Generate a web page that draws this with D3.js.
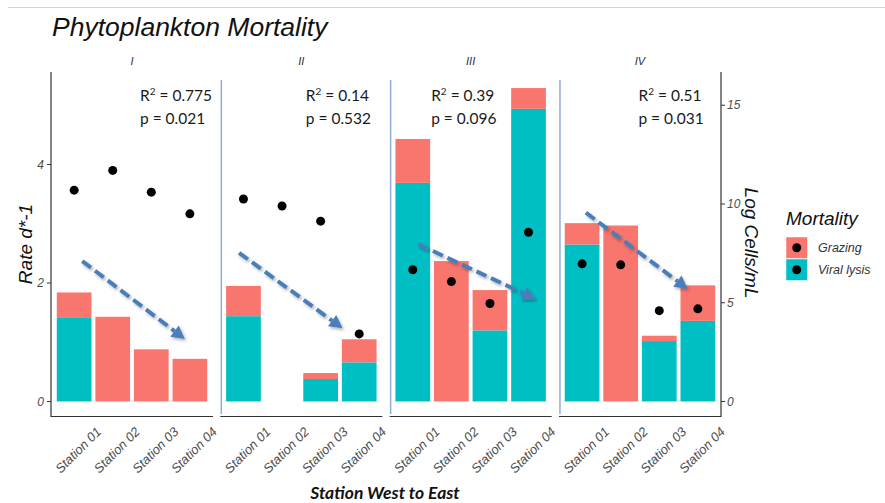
<!DOCTYPE html>
<html>
<head>
<meta charset="utf-8">
<script src="https://cdn.jsdelivr.net/npm/d3@7"></script>
<style>
  body { margin: 0; background: #fff; }
</style>
</head>
<body>
<div id="chart"></div>
<script>
// data
var panels = ["I", "II", "III", "IV"];
var stations = ["Station 01", "Station 02", "Station 03", "Station 04"];
var viral = [[1.41, 0, 0, 0], [1.44, 0, 0.38, 0.66], [3.69, 0, 1.2, 4.94], [2.65, 0, 1.02, 1.36]];
var grazing = [[0.43, 1.43, 0.88, 0.72], [0.51, 0, 0.1, 0.39], [0.74, 2.37, 0.68, 0.35], [0.36, 2.97, 0.09, 0.6]];
var cells = [[10.7, 11.7, 10.6, 9.5], [10.25, 9.9, 9.13, 3.42], [6.67, 6.07, 4.96, 8.57], [6.97, 6.92, 4.6, 4.69]];
var r2 = ["0.775", "0.14", "0.39", "0.51"];
var pval = ["0.021", "0.532", "0.096", "0.031"];
// trend arrows: [station from, rate from, station to, rate to]
var arrows = [[1.21, 2.37, 3.87, 1.055], [0.885, 2.51, 3.57, 1.235], [1.146, 2.653, 4.185, 1.73], [1.098, 3.187, 3.738, 1.9]];
var leftTicks = [0, 2, 4];
var rightTicks = [0, 5, 10, 15];
var legendKeys = ["Grazing", "Viral lysis"];

var W = 885, H = 503;
var plot = {left: 51, right: 721, top: 72, bottom: 416};
var colors = {"Grazing": "#F8766D", "Viral lysis": "#00BFC4"};
var annX = [89, 85.5, 41.5, 79.5];
var sans = "'Liberation Sans', Arial, sans-serif";
var calib = "Lato, sans-serif";

var svg = d3.select("#chart").append("svg")
  .attr("width", W).attr("height", H)
  .style("font-family", sans);

var defs = svg.append("defs");
var f = defs.append("filter").attr("id", "shadow").attr("x", "-20%").attr("y", "-20%").attr("width", "140%").attr("height", "140%");
f.append("feDropShadow").attr("dx", 1.5).attr("dy", 2).attr("stdDeviation", 1.5)
  .attr("flood-color", "#000").attr("flood-opacity", 0.3);

// top rule
svg.append("line").attr("x1", 8).attr("x2", W).attr("y1", 7.5).attr("y2", 7.5)
  .attr("stroke", "#d4d4d4").attr("stroke-width", 1);

// title
svg.append("text").attr("x", 52).attr("y", 36)
  .attr("font-size", 26.5).attr("font-style", "italic").attr("fill", "#111")
  .text("Phytoplankton Mortality");

// scales
var facet = d3.scaleBand().domain(panels).range([plot.left, plot.right]).paddingInner(0.043);
var y = d3.scaleLinear().domain([-0.245, 5.561]).range([plot.bottom, plot.top]);
var yR = d3.scaleLinear().domain([-0.245 * 3, 5.561 * 3]).range([plot.bottom, plot.top]);

panels.forEach(function (p, pi) {
  var x0 = facet(p);
  var x = d3.scaleBand().domain(stations).range([0, facet.bandwidth()])
    .paddingInner(0.1).paddingOuter(0.15);
  var g = svg.append("g").attr("transform", "translate(" + x0 + ",0)");

  // strip label
  g.append("text").attr("x", facet.bandwidth() / 2).attr("y", 65)
    .attr("text-anchor", "middle").attr("font-size", 11).attr("font-style", "italic")
    .attr("fill", "#2b2b3b").text(p);

  // stacked bars
  stations.forEach(function (s, si) {
    var v = viral[pi][si], gz = grazing[pi][si];
    if (v > 0) {
      g.append("rect").attr("x", x(s)).attr("width", x.bandwidth())
        .attr("y", y(v)).attr("height", y(0) - y(v)).attr("fill", colors["Viral lysis"]);
    }
    if (gz > 0) {
      g.append("rect").attr("x", x(s)).attr("width", x.bandwidth())
        .attr("y", y(v + gz)).attr("height", y(v) - y(v + gz)).attr("fill", colors["Grazing"]);
    }
  });

  // cell counts
  g.selectAll("circle.dot").data(cells[pi]).enter().append("circle")
    .attr("cx", function (d, i) { return x(stations[i]) + x.bandwidth() / 2; })
    .attr("cy", function (d) { return yR(d); })
    .attr("r", 4.5).attr("fill", "#000");

  // bottom axis line
  g.append("line").attr("x1", 0).attr("x2", facet.bandwidth())
    .attr("y1", plot.bottom + 0.5).attr("y2", plot.bottom + 0.5)
    .attr("stroke", "#333").attr("stroke-width", 1.2);

  // x tick labels
  stations.forEach(function (s) {
    var cx = x(s) + x.bandwidth() / 2 + 4;
    g.append("text").attr("transform", "translate(" + cx + ",450) rotate(-45)")
      .attr("text-anchor", "middle").attr("dy", "0.35em")
      .attr("font-size", 13).attr("font-style", "italic").attr("fill", "#4d4d4d")
      .text(s);
  });

  // trend arrow
  var step = x.step();
  var sx = function (pos) { return x(stations[0]) + x.bandwidth() / 2 + (pos - 1) * step; };
  var a = arrows[pi];
  var ax1 = sx(a[0]), ay1 = y(a[1]), ax2 = sx(a[2]), ay2 = y(a[3]);
  var ang = Math.atan2(ay2 - ay1, ax2 - ax1), hl = 13, hw = 7;
  var bx = ax2 - hl * Math.cos(ang), by = ay2 - hl * Math.sin(ang);
  var ag = g.append("g").attr("filter", "url(#shadow)");
  ag.append("line").attr("x1", ax1).attr("y1", ay1).attr("x2", bx).attr("y2", by)
    .attr("stroke", "#4a7ebb").attr("stroke-width", 4).attr("stroke-dasharray", "11,5");
  ag.append("polygon").attr("fill", "#4a7ebb")
    .attr("points", [[ax2, ay2],
      [bx + hw * Math.sin(ang), by - hw * Math.cos(ang)],
      [bx - hw * Math.sin(ang), by + hw * Math.cos(ang)]].map(function (q) { return q.join(","); }).join(" "));

  // stats annotation
  var t = g.append("text").attr("x", annX[pi]).attr("y", 100.7)
    .style("font-family", calib).attr("font-size", 15.5).attr("fill", "#1a1a1a");
  t.append("tspan").text("R");
  t.append("tspan").attr("font-size", 10).attr("dy", -6).text("2");
  t.append("tspan").attr("dy", 6).text(" = " + r2[pi]);
  g.append("text").attr("x", annX[pi]).attr("y", 124.3)
    .style("font-family", calib).attr("font-size", 15.5).attr("fill", "#1a1a1a")
    .text("p = " + pval[pi]);
});

// panel separators
panels.slice(1).forEach(function (p) {
  svg.append("line").attr("x1", facet(p) + 1).attr("x2", facet(p) + 1)
    .attr("y1", 80).attr("y2", 414)
    .attr("stroke", "#8fabd6").attr("stroke-width", 1.5);
});

// left axis
var gl = svg.append("g").attr("transform", "translate(" + plot.left + ",0)");
gl.append("line").attr("x1", 0).attr("x2", 0).attr("y1", plot.top).attr("y2", plot.bottom + 1)
  .attr("stroke", "#333").attr("stroke-width", 1.2);
gl.selectAll("g.tick").data(leftTicks).enter().append("g")
  .attr("transform", function (d) { return "translate(0," + y(d) + ")"; })
  .each(function () {
    d3.select(this).append("line").attr("x1", -4).attr("x2", 0).attr("stroke", "#333");
    d3.select(this).append("text").attr("x", -7).attr("dy", "0.35em")
      .attr("text-anchor", "end").attr("font-size", 12).attr("font-style", "italic")
      .attr("fill", "#4d4d4d").text(function (d) { return d; });
  });
svg.append("text").attr("transform", "translate(25,244) rotate(-90)")
  .attr("text-anchor", "middle").attr("dy", "0.35em")
  .attr("font-size", 19).attr("font-style", "italic").attr("fill", "#111")
  .text("Rate d*-1");

// right axis
var gr = svg.append("g").attr("transform", "translate(" + plot.right + ",0)");
gr.append("line").attr("x1", 0).attr("x2", 0).attr("y1", plot.top).attr("y2", plot.bottom + 1)
  .attr("stroke", "#333").attr("stroke-width", 1.2);
gr.selectAll("g.tick").data(rightTicks).enter().append("g")
  .attr("transform", function (d) { return "translate(0," + yR(d) + ")"; })
  .each(function () {
    d3.select(this).append("line").attr("x1", 0).attr("x2", 4).attr("stroke", "#333");
    d3.select(this).append("text").attr("x", 6).attr("dy", "0.35em")
      .attr("font-size", 12).attr("font-style", "italic")
      .attr("fill", "#4d4d4d").text(function (d) { return d; });
  });
svg.append("text").attr("transform", "translate(752,243) rotate(90)")
  .attr("text-anchor", "middle").attr("dy", "0.35em")
  .attr("font-size", 19).attr("font-style", "italic").attr("fill", "#111")
  .text("Log Cells/mL");

// x axis title
svg.append("text").attr("x", (plot.left + plot.right) / 2 - 1).attr("y", 499)
  .attr("text-anchor", "middle").style("font-family", calib)
  .attr("font-size", 17.5).attr("font-weight", "bold").attr("font-style", "italic").attr("fill", "#111")
  .text("Station West to East");

// legend
var lg = svg.append("g").attr("transform", "translate(786,0)");
lg.append("text").attr("x", 0).attr("y", 225)
  .attr("font-size", 19).attr("font-style", "italic").attr("fill", "#111").text("Mortality");
legendKeys.forEach(function (k, i) {
  var ky = 237 + i * 22;
  lg.append("rect").attr("x", 0).attr("y", ky).attr("width", 21.5).attr("height", 21.5)
    .attr("fill", colors[k]).attr("stroke", "#fff").attr("stroke-width", 0.5);
  lg.append("circle").attr("cx", 10.75).attr("cy", ky + 10.75).attr("r", 4.5).attr("fill", "#000");
  lg.append("text").attr("x", 32).attr("y", ky + 10.75).attr("dy", "0.35em")
    .attr("font-size", 12.5).attr("font-style", "italic").attr("fill", "#333").text(k);
});
</script>
</body>
</html>
